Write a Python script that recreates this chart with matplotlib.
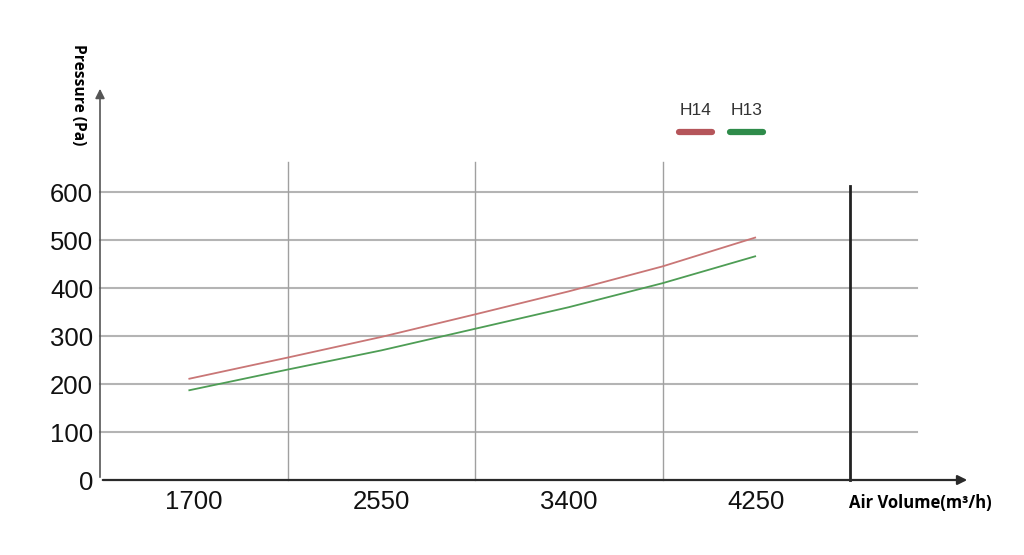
import matplotlib
matplotlib.use("Agg")
import matplotlib.pyplot as plt
from matplotlib import font_manager
import numpy as np

# ---- data ----
air_volume = [1680, 2125, 2550, 2975, 3400, 3825, 4245]
h14_pressure = [211, 255, 298, 345, 393, 445, 505]
h13_pressure = [187, 230, 270, 315, 360, 410, 466]
x_tick_values = [1700, 2550, 3400, 4250]
x_tick_labels = ["1700", "2550", "3400", "4250"]
y_tick_values = [0, 100, 200, 300, 400, 500, 600]
grid_x = [2125, 2975, 3825]
limit_x = 4675
series_names = ["H14", "H13"]

# ---- figure ----
W, H = 1024, 555
fig = plt.figure(figsize=(W / 100, H / 100), dpi=100)
ax = fig.add_axes([100 / W, 75 / H, 868 / W, 392 / H])
xmin = 1275
xper = 850 / 187.5
ax.set_xlim(xmin, xmin + 868 * xper)
ax.set_ylim(0, 392 / 0.48)
for s in ax.spines.values():
    s.set_visible(False)

def px(xp):
    return xmin + (xp - 100) * xper

def py(yp):
    return (480 - yp) / 0.48

# horizontal grid
for yv in y_tick_values[1:]:
    ax.plot([xmin, px(917)], [yv, yv], color="#b4b4b4", lw=1.5, zorder=1, clip_on=False)
# vertical grid
for xv in grid_x:
    ax.plot([xv, xv], [0, py(162)], color="#a0a0a0", lw=1.0, zorder=1, clip_on=False)
ax.plot([limit_x, limit_x], [0, py(186)], color="#222222", lw=2.0, zorder=2, clip_on=False)

# axes arrows
ax.annotate("", xy=(px(970), 0), xytext=(xmin, 0),
            arrowprops=dict(arrowstyle="-|>", color="#2a2a2a", lw=1.6, mutation_scale=14),
            annotation_clip=False)
ax.annotate("", xy=(xmin, py(86)), xytext=(xmin, 0),
            arrowprops=dict(arrowstyle="-|>", color="#555555", lw=1.2, mutation_scale=14),
            annotation_clip=False)

# curves
ax.plot(air_volume, h14_pressure, color="#c97676", lw=1.3, zorder=3)
ax.plot(air_volume, h13_pressure, color="#4e9d55", lw=1.3, zorder=3)

# ticks
ax.set_xticks(x_tick_values)
ax.set_xticklabels(x_tick_labels)
ax.set_yticks(y_tick_values)
ax.tick_params(axis="both", length=0, labelsize=18.5, labelcolor="#111111")
ax.tick_params(axis="x", pad=7)
ax.tick_params(axis="y", pad=5)
for lab in ax.get_xticklabels() + ax.get_yticklabels():
    lab.set_family(["Liberation Sans", "DejaVu Sans"])

# axis titles
fig.text(78 / W, 1 - 44 / H, "Pressure (Pa)", rotation=-90, ha="center", va="top",
         fontsize=11.2, fontweight="bold", family=["Open Sans", "DejaVu Sans"])
fig.text(849 / W, 1 - 503 / H, "Air Volume(m³/h)", ha="left", va="center",
         fontsize=12, fontweight="bold", family=["Open Sans", "DejaVu Sans"])

# legend
names = {f.name for f in font_manager.fontManager.ttflist}
leg_family = ["Liberation Sans Narrow"] if "Liberation Sans Narrow" in names else []
leg_family += ["Liberation Sans", "DejaVu Sans"]
leg_colors = ["#b5555a", "#2e8b4a"]
leg_x = [(679, 712), (730, 763)]
for name, col, (a, b) in zip(series_names, leg_colors, leg_x):
    ax.plot([px(a), px(b)], [py(132), py(132)], color=col, lw=4.5,
            solid_capstyle="round", clip_on=False)
    ax.text((px(a) + px(b)) / 2, py(111), name, ha="center", va="center",
            fontsize=12.5, color="#333333", family=leg_family)

fig.savefig("out.png", dpi=100)
